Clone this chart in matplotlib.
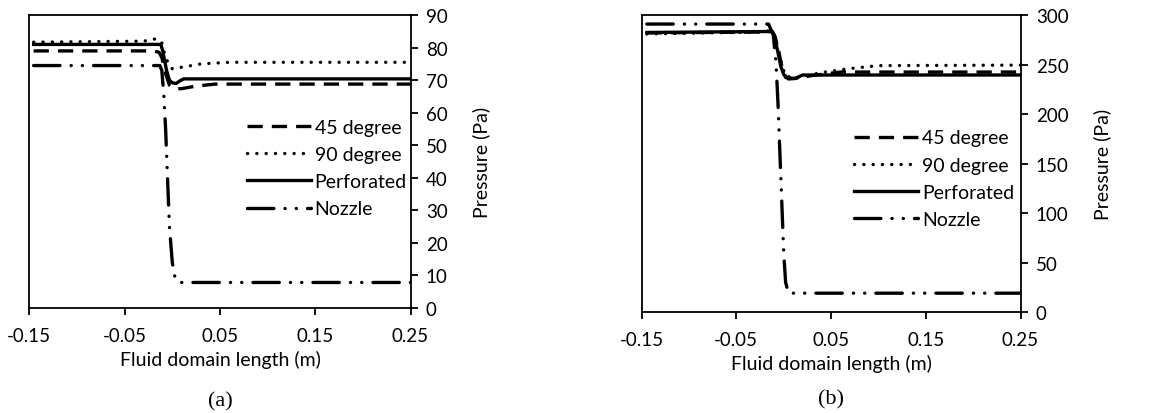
import matplotlib.pyplot as plt

plt.rcParams['font.family'] = ['Lato', 'DejaVu Sans']
plt.rcParams['lines.scale_dashes'] = False

LABELS = ["45 degree", "90 degree", "Perforated", "Nozzle"]

# panel (a)
xa_45 = [-0.1455, -0.020, -0.014, -0.011, -0.007, -0.003, 0.002, 0.010, 0.025, 0.045, 0.25]
ya_45 = [79.0, 79.0, 78.6, 77.0, 72.0, 68.5, 67.4, 67.4, 68.2, 68.8, 68.8]
xa_90 = [-0.1455, -0.030, -0.016, -0.011, -0.008, -0.004, 0.000, 0.010, 0.030, 0.060, 0.25]
ya_90 = [81.7, 82.0, 82.8, 81.5, 78.0, 75.0, 73.5, 74.0, 75.0, 75.5, 75.5]
xa_perf = [-0.1455, -0.012, -0.010, -0.006, -0.003, 0.000, 0.004, 0.008, 0.012, 0.25]
ya_perf = [81.0, 81.0, 79.0, 73.0, 70.0, 69.2, 69.0, 69.8, 70.4, 70.4]
xa_noz = [-0.1455, -0.013, -0.011, -0.009, -0.007, -0.005, -0.003, 0.000, 0.003, 0.006, 0.25]
ya_noz = [74.5, 74.5, 73.0, 66.0, 55.0, 40.0, 25.0, 14.0, 9.0, 7.8, 7.8]

# panel (b)
xb_45 = [-0.1445, -0.020, -0.013, -0.009, -0.005, -0.002, 0.002, 0.012, 0.030, 0.060, 0.25]
yb_45 = [282.0, 283.0, 283.5, 278.0, 262.0, 248.0, 237.0, 236.0, 239.0, 242.5, 242.5]
xb_90 = [-0.1445, -0.020, -0.013, -0.009, -0.005, -0.002, 0.002, 0.015, 0.040, 0.070, 0.100, 0.25]
yb_90 = [281.0, 283.0, 285.0, 278.0, 262.0, 250.0, 238.0, 237.0, 242.0, 246.0, 249.0, 249.5]
xb_perf = [-0.1445, -0.012, -0.010, -0.006, -0.003, 0.000, 0.005, 0.012, 0.020, 0.25]
yb_perf = [282.5, 283.5, 280.0, 262.0, 248.0, 240.0, 235.5, 236.0, 239.5, 239.5]
xb_noz = [-0.1445, -0.016, -0.011, -0.008, -0.006, -0.004, -0.002, 0.000, 0.002, 0.005, 0.25]
yb_noz = [291.0, 291.0, 280.0, 250.0, 210.0, 160.0, 110.0, 60.0, 30.0, 19.0, 19.0]

STYLES = [
    dict(dashes=(11, 6.5), dash_capstyle='butt'),
    dict(dashes=(0.1, 6.6), dash_capstyle='round'),
    dict(linestyle='-'),
    dict(dashes=(19, 8, 0.1, 8, 0.1, 8), dash_capstyle='round'),
]

fig = plt.figure(figsize=(11.73, 4.14), dpi=100)


def panel(rect, series, ymax, yticks, legend_xy, caption, cap_y):
    ax = fig.add_axes(rect)
    for (x, y), lab, st in zip(series, LABELS, STYLES):
        ax.plot(x, y, color='black', lw=2.4, label=lab, **st)
    ax.set_xlim(-0.15, 0.25)
    ax.set_ylim(0, ymax)
    ax.set_xticks([-0.15, -0.05, 0.05, 0.15, 0.25])
    ax.set_xticklabels(['-0.15', '-0.05', '0.05', '0.15', '0.25'])
    ax.set_yticks(yticks)
    ax.yaxis.tick_right()
    ax.yaxis.set_label_position('right')
    ax.tick_params(axis='both', direction='out', length=5, width=1.3,
                   labelsize=13.5, pad=6, colors='black')
    ax.tick_params(axis='x', pad=9)
    for s in ax.spines.values():
        s.set_linewidth(1.3)
    ax.set_xlabel('Fluid domain length (m)', fontsize=14, labelpad=4)
    ax.set_ylabel('Pressure (Pa)', fontsize=14, labelpad=18)
    ax.legend(loc='upper left', bbox_to_anchor=legend_xy, frameon=False,
              fontsize=14, handlelength=3.3, handletextpad=0.2,
              labelspacing=0.52, borderpad=0, borderaxespad=0)
    ax.text(0.5, cap_y, caption, transform=ax.transAxes, ha='center', va='center',
            fontsize=16, family='Liberation Serif')
    return ax


panel([0.025, 0.254, 0.325, 0.707],
      [(xa_45, ya_45), (xa_90, ya_90), (xa_perf, ya_perf), (xa_noz, ya_noz)],
      90, range(0, 91, 10), (0.57, 0.645), '(a)', -0.318)
panel([0.547, 0.244, 0.323, 0.717],
      [(xb_45, yb_45), (xb_90, yb_90), (xb_perf, yb_perf), (xb_noz, yb_noz)],
      300, range(0, 301, 50), (0.56, 0.615), '(b)', -0.293)

fig.savefig('out.png', dpi=100)
